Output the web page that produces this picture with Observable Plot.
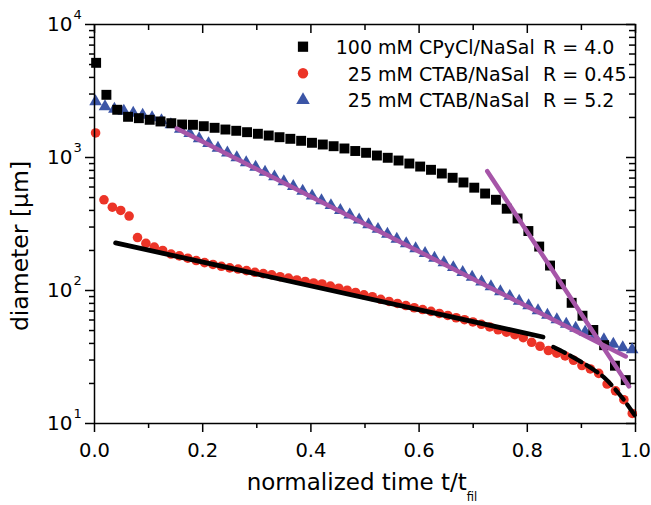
<!DOCTYPE html>
<html><head><meta charset="utf-8">
<script src="https://cdn.jsdelivr.net/npm/d3@7"></script>
<script src="https://cdn.jsdelivr.net/npm/@observablehq/plot@0.6"></script>
<style>
body{margin:0;background:#fff;}
#chart svg{display:block;}
</style>
</head><body><div id="chart"></div>
<script>
// ---- data ----
// 100 mM CPyCl/NaSal R = 4.0 (black squares)
const cpyclTime = [0.003,0.022,0.042,0.062,0.082,0.102,0.122,0.142,0.162,0.182,0.202,0.222,0.242,0.262,0.282,0.302,0.322,0.342,0.362,0.382,0.402,0.422,0.442,0.462,0.482,0.502,0.522,0.542,0.562,0.582,0.602,0.622,0.642,0.662,0.682,0.702,0.722,0.742,0.762,0.782,0.802,0.822,0.842,0.862,0.882,0.902,0.922,0.942,0.962,0.982];
const cpyclDiameter = [5150,2960,2285,2023,1975,1921,1866,1811,1771,1762,1719,1672,1623,1588,1550,1508,1463,1421,1382,1335,1290,1252,1216,1169,1119,1085,1035,995,949,901,855,808,758,704,649,593,536,481,412,348,280,214,154,111.5,80.8,64.6,50.5,38.8,27.2,21.2];
// 25 mM CTAB/NaSal R = 0.45 (red circles)
const ctab045Time = [0.002,0.0175,0.033,0.0485,0.064,0.0795,0.095,0.1105,0.126,0.1415,0.157,0.1725,0.188,0.2035,0.219,0.2345,0.25,0.2655,0.281,0.2965,0.312,0.3275,0.343,0.3585,0.374,0.3895,0.405,0.4205,0.436,0.4515,0.467,0.4825,0.498,0.5135,0.529,0.5445,0.56,0.5755,0.591,0.6065,0.622,0.6375,0.653,0.6685,0.684,0.6995,0.715,0.7305,0.746,0.7615,0.777,0.7925,0.808,0.8235,0.839,0.8545,0.87,0.8855,0.901,0.9165,0.932,0.9475,0.963,0.9785,0.994];
const ctab045Diameter = [1529,481,423,400,363,250,226,212,200,188,182,175,168,162,157,152,148,145,141,137,134,131,127,124,120,117,114,112,108,104,100.5,96.6,92.8,89.8,85.9,82.7,79.9,77.1,74.2,71.9,69.7,67.2,64.9,62.4,60.3,58.0,55.7,53.2,50.7,48.6,46.5,44.2,40.8,38.1,35.4,33.8,32.2,29.9,27.3,25.7,23.8,19.8,17.6,15.1,11.9];
// 25 mM CTAB/NaSal R = 5.2 (blue triangles)
const ctab52Time = [0.002,0.0194,0.0368,0.0542,0.0716,0.089,0.1064,0.1238,0.1412,0.1586,0.176,0.1934,0.2108,0.2282,0.2456,0.263,0.2804,0.2978,0.3152,0.3326,0.35,0.3674,0.3848,0.4022,0.4196,0.437,0.4544,0.4718,0.4892,0.5066,0.524,0.5414,0.5588,0.5762,0.5936,0.611,0.6284,0.6458,0.6632,0.6806,0.698,0.7154,0.7328,0.7502,0.7676,0.785,0.8024,0.8198,0.8372,0.8546,0.872,0.8894,0.9068,0.9242,0.9416,0.959,0.9764,0.9938];
const ctab52Diameter = [2637,2418,2316,2237,2161,2087,1999,1898,1771,1638,1516,1390,1275,1179,1085,1000,917,846,778,717,660,607,559,514,475,436,401,370,340,313,289,266,244,225,207,190,175,162,149,137,126,116,107,98.3,90.6,83.4,76.9,70.7,65.4,60.5,56.0,52.2,48.8,45.5,42.8,39.6,37.2,36.0];
// fit lines
const fitCpyclTime = [0.726,0.988];
const fitCpyclDiameter = [789,19.0];
const fitCtab52Time = [0.152,0.982];
const fitCtab52Diameter = [1652,31.9];
const fitCtab045Time = [0.039,0.829];
const fitCtab045Diameter = [228,44.7];
const dashCtab045Time = [0.848,0.874,0.898,0.922,0.945,0.963,0.982,1.0];
const dashCtab045Diameter = [37.6,33.3,29.3,25.5,21.6,18.0,14.4,11.3];
// ticks
const xMajor = [0,0.2,0.4,0.6,0.8,1.0];
const xMinor = [0.1,0.3,0.5,0.7,0.9];
const yMajor = [10,100,1000,10000];
const yMinor = [20,30,40,50,60,70,80,90,200,300,400,500,600,700,800,900,2000,3000,4000,5000,6000,7000,8000,9000];
const legendNumbers = ["100","25","25"];
const legendNames = ["mM CPyCl/NaSal","mM CTAB/NaSal","mM CTAB/NaSal"];
const legendRatios = ["R = 4.0","R = 0.45","R = 5.2"];

const pts = (t, d) => t.map((v, i) => ({t: v, d: d[i]}));
const squares = pts(cpyclTime, cpyclDiameter);
const circles = pts(ctab045Time, ctab045Diameter);
const triangles = pts(ctab52Time, ctab52Diameter);

const BLUE = "#3b55a6", RED = "#ec3427", PURPLE = "#a655a8";
const W = 651, H = 505, ML = 94, MR = 16, MT = 24, MB = 82;
const FONT = "DejaVu Sans";

const plot = Plot.plot({
  width: W, height: H, marginLeft: ML, marginRight: MR, marginTop: MT, marginBottom: MB,
  style: {fontFamily: FONT, fontSize: "20px", color: "black", background: "white"},
  x: {domain: [0, 1], label: null},
  y: {type: "log", domain: [10, 10000], label: null},
  marks: [
    Plot.axisX(xMajor, {tickSize: 9, tickPadding: 11, strokeWidth: 1.5, fontSize: 19.5, tickFormat: d => d.toFixed(1), label: null}),
    Plot.axisX(xMinor, {tickSize: 5, strokeWidth: 1.5, tickFormat: () => "", label: null}),
    Plot.tickX(xMajor, {x: d => d, insetBottom: H - MT - MB - 9, strokeWidth: 1.5}),
    Plot.tickX(xMinor, {x: d => d, insetBottom: H - MT - MB - 6, strokeWidth: 1.5}),
    Plot.axisY(yMajor, {tickSize: 9, strokeWidth: 1.5, tickFormat: () => "", label: null}),
    Plot.axisY(yMinor, {tickSize: 5, strokeWidth: 1.5, tickFormat: () => "", label: null}),
    Plot.tickY(yMajor, {y: d => d, insetLeft: W - ML - MR - 9, strokeWidth: 1.5}),
    Plot.tickY(yMinor, {y: d => d, insetLeft: W - ML - MR - 6, strokeWidth: 1.5}),
    Plot.text(yMajor, {y: d => d, text: () => "10", frameAnchor: "left", dx: -22, textAnchor: "end", fontSize: 20}),
    Plot.text(yMajor, {y: d => d, text: d => String(Math.round(Math.log10(d))), frameAnchor: "left", dx: -21, dy: -10, textAnchor: "start", fontSize: 13}),
    Plot.dot(triangles, {x: "t", y: "d", symbol: "triangle", r: 4.7, fill: BLUE, stroke: null}),
    Plot.dot(circles, {x: "t", y: "d", symbol: "circle", r: 4.8, fill: RED, stroke: null}),
    Plot.dot(squares, {x: "t", y: "d", symbol: "square", r: 5.6, fill: "black", stroke: null}),
    Plot.line(pts(fitCtab045Time, fitCtab045Diameter), {x: "t", y: "d", stroke: "black", strokeWidth: 4.8}),
    Plot.line(pts(dashCtab045Time, dashCtab045Diameter), {x: "t", y: "d", stroke: "black", strokeWidth: 4.3, strokeDasharray: "13,6", curve: "monotone-x"}),
    Plot.line(pts(fitCtab52Time, fitCtab52Diameter), {x: "t", y: "d", stroke: PURPLE, strokeWidth: 4.5}),
    Plot.line(pts(fitCpyclTime, fitCpyclDiameter), {x: "t", y: "d", stroke: PURPLE, strokeWidth: 4.5}),
    Plot.frame({stroke: "black", strokeWidth: 1.5})
  ]
});

const svg = d3.select(plot);
// axis titles
const xt = svg.append("text").attr("x", 362).attr("y", 490).attr("text-anchor", "middle")
  .attr("font-family", FONT).attr("font-size", 23).attr("fill", "black");
xt.append("tspan").text("normalized time t/t");
xt.append("tspan").attr("font-size", 11.5).attr("dy", 11).text("fil");
svg.append("text").attr("transform", "translate(28,246) rotate(-90)").attr("text-anchor", "middle")
  .attr("font-family", FONT).attr("font-size", 23.5).attr("fill", "black").text("diameter [\u00b5m]");
// legend
const legendRows = [46.7, 73.3, 100];
const legendSymbols = [
  {type: d3.symbolSquare, size: 105, fill: "black"},
  {type: d3.symbolCircle, size: 85, fill: RED},
  {type: d3.symbolTriangle, size: 80, fill: BLUE}
];
const lg = svg.append("g").attr("font-family", FONT).attr("font-size", 19).attr("fill", "black").attr("text-anchor", "start");
legendRows.forEach((y, i) => {
  const s = legendSymbols[i];
  lg.append("path").attr("transform", `translate(303,${y})`).attr("d", d3.symbol().type(s.type).size(s.size)()).attr("fill", s.fill);
  const base = y + 7.3;
  lg.append("text").attr("x", 372).attr("y", base).attr("text-anchor", "end").text(legendNumbers[i]);
  lg.append("text").attr("x", 378).attr("y", base).attr("text-anchor", "start").text(legendNames[i]);
  lg.append("text").attr("x", 543).attr("y", base).attr("text-anchor", "start").text(legendRatios[i]);
});
document.getElementById("chart").append(plot);
</script>
</body></html>
